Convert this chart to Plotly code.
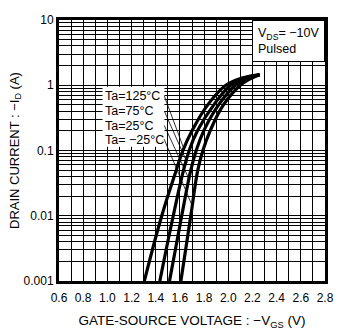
import math
import plotly.graph_objects as go

# Data (V_GS in V, I_D in A)
v_125 = [1.306, 1.45, 1.57, 1.625, 1.70, 1.83, 1.98, 2.12, 2.26]
i_125 = [0.001, 0.01, 0.05, 0.1, 0.2, 0.5, 1.0, 1.30, 1.45]
v_75 = [1.434, 1.545, 1.63, 1.677, 1.745, 1.88, 2.02, 2.14, 2.26]
i_75 = [0.001, 0.01, 0.05, 0.1, 0.2, 0.5, 1.0, 1.30, 1.45]
v_25 = [1.514, 1.615, 1.69, 1.735, 1.797, 1.92, 2.06, 2.16, 2.26]
i_25 = [0.001, 0.01, 0.05, 0.1, 0.2, 0.5, 1.0, 1.28, 1.45]
v_m25 = [1.608, 1.69, 1.748, 1.79, 1.85, 1.96, 2.10, 2.18, 2.26]
i_m25 = [0.001, 0.01, 0.05, 0.1, 0.2, 0.5, 1.0, 1.25, 1.45]

labels = ["Ta=125°C", "Ta=75°C", "Ta=25°C", "Ta= −25°C"]
# leader line targets on each curve
target_v = [1.63, 1.66, 1.68, 1.70]
target_i = [0.11, 0.065, 0.035, 0.0145]

x_ticks = [0.6, 0.8, 1.0, 1.2, 1.4, 1.6, 1.8, 2.0, 2.2, 2.4, 2.6, 2.8]
y_ticks = [0.001, 0.01, 0.1, 1, 10]
y_ticktext = ["0.001", "0.01", "0.1", "1", "10"]

FONT = "Liberation Sans, Arial, sans-serif"

# plot area geometry (pixels)
L, R, T, B = 59, 334, 20, 290
W, H = 341, 334
XMIN, XMAX, YMIN, YMAX = 0.6, 2.8, -3, 1


def px_x(v):
    return L + (v - XMIN) / (XMAX - XMIN) * (R - L)


def px_y(i):
    return T + (YMAX - math.log10(i)) / (YMAX - YMIN) * (B - T)


fig = go.Figure()
for v, i in [(v_125, i_125), (v_75, i_75), (v_25, i_25), (v_m25, i_m25)]:
    fig.add_trace(go.Scatter(x=v, y=i, mode="lines",
                             line=dict(color="black", width=3.2, shape="spline", smoothing=1.2),
                             showlegend=False, hoverinfo="skip"))

fig.update_layout(
    width=W, height=H,
    margin=dict(l=L, r=W - R, t=T, b=H - B),
    paper_bgcolor="white", plot_bgcolor="white",
    font=dict(family=FONT, size=12, color="black"),
    xaxis=dict(range=[XMIN, XMAX], tickvals=x_ticks, ticktext=[f"{t:.1f}" for t in x_ticks],
               showgrid=True, gridcolor="black", gridwidth=1,
               minor=dict(dtick=0.1, tick0=0.6, showgrid=True, gridcolor="black", gridwidth=1),
               showline=True, linecolor="black", linewidth=3, mirror=True,
               ticks="", ticklen=0, zeroline=False, ticklabelstandoff=4,
               title=dict(text="GATE-SOURCE VOLTAGE : −V<sub>GS</sub> (V)", standoff=12,
                          font=dict(size=13.5))),
    yaxis=dict(type="log", range=[YMIN, YMAX], tickvals=y_ticks, ticktext=y_ticktext,
               showgrid=True, gridcolor="black", gridwidth=1,
               minor=dict(dtick="D1", showgrid=True, gridcolor="black", gridwidth=1),
               showline=True, linecolor="black", linewidth=3, mirror=True,
               ticks="", ticklen=0, zeroline=False,
               title=dict(text="DRAIN CURRENT : −I<sub>D</sub> (A)", standoff=2,
                          font=dict(size=13))),
)

# Ta label box
fig.add_shape(type="rect", xref="paper", yref="paper",
              x0=(104 - L) / (R - L), x1=(168 - L) / (R - L),
              y0=(B - 151) / (B - T), y1=(B - 89) / (B - T),
              fillcolor="white", line=dict(width=0), layer="above")
label_y = [99, 114.5, 129.5, 144]
for k, lab in enumerate(labels):
    py = (B - label_y[k]) / (B - T)
    fig.add_annotation(x=(105 - L) / (R - L), y=py, xref="paper", yref="paper",
                       text=lab, showarrow=False, xanchor="left", yanchor="middle",
                       font=dict(size=12.5))
    tx, ty = px_x(target_v[k]), px_y(target_i[k])
    fig.add_annotation(x=target_v[k], y=math.log10(target_i[k]),
                       ax=168 - tx, ay=label_y[k] - ty, axref="pixel", ayref="pixel",
                       xref="x", yref="y", text="", showarrow=True, arrowhead=0,
                       arrowwidth=0.8, arrowcolor="black", standoff=0, startstandoff=0)

# VDS box
fig.add_annotation(x=1.0, y=1.0, xref="paper", yref="paper", xanchor="right", yanchor="top",
                   text="V<sub>DS</sub>= −10V<br>Pulsed", showarrow=False, align="left",
                   bgcolor="white", bordercolor="black", borderwidth=1, borderpad=5,
                   font=dict(size=12.5))

fig.write_html("out.html")
